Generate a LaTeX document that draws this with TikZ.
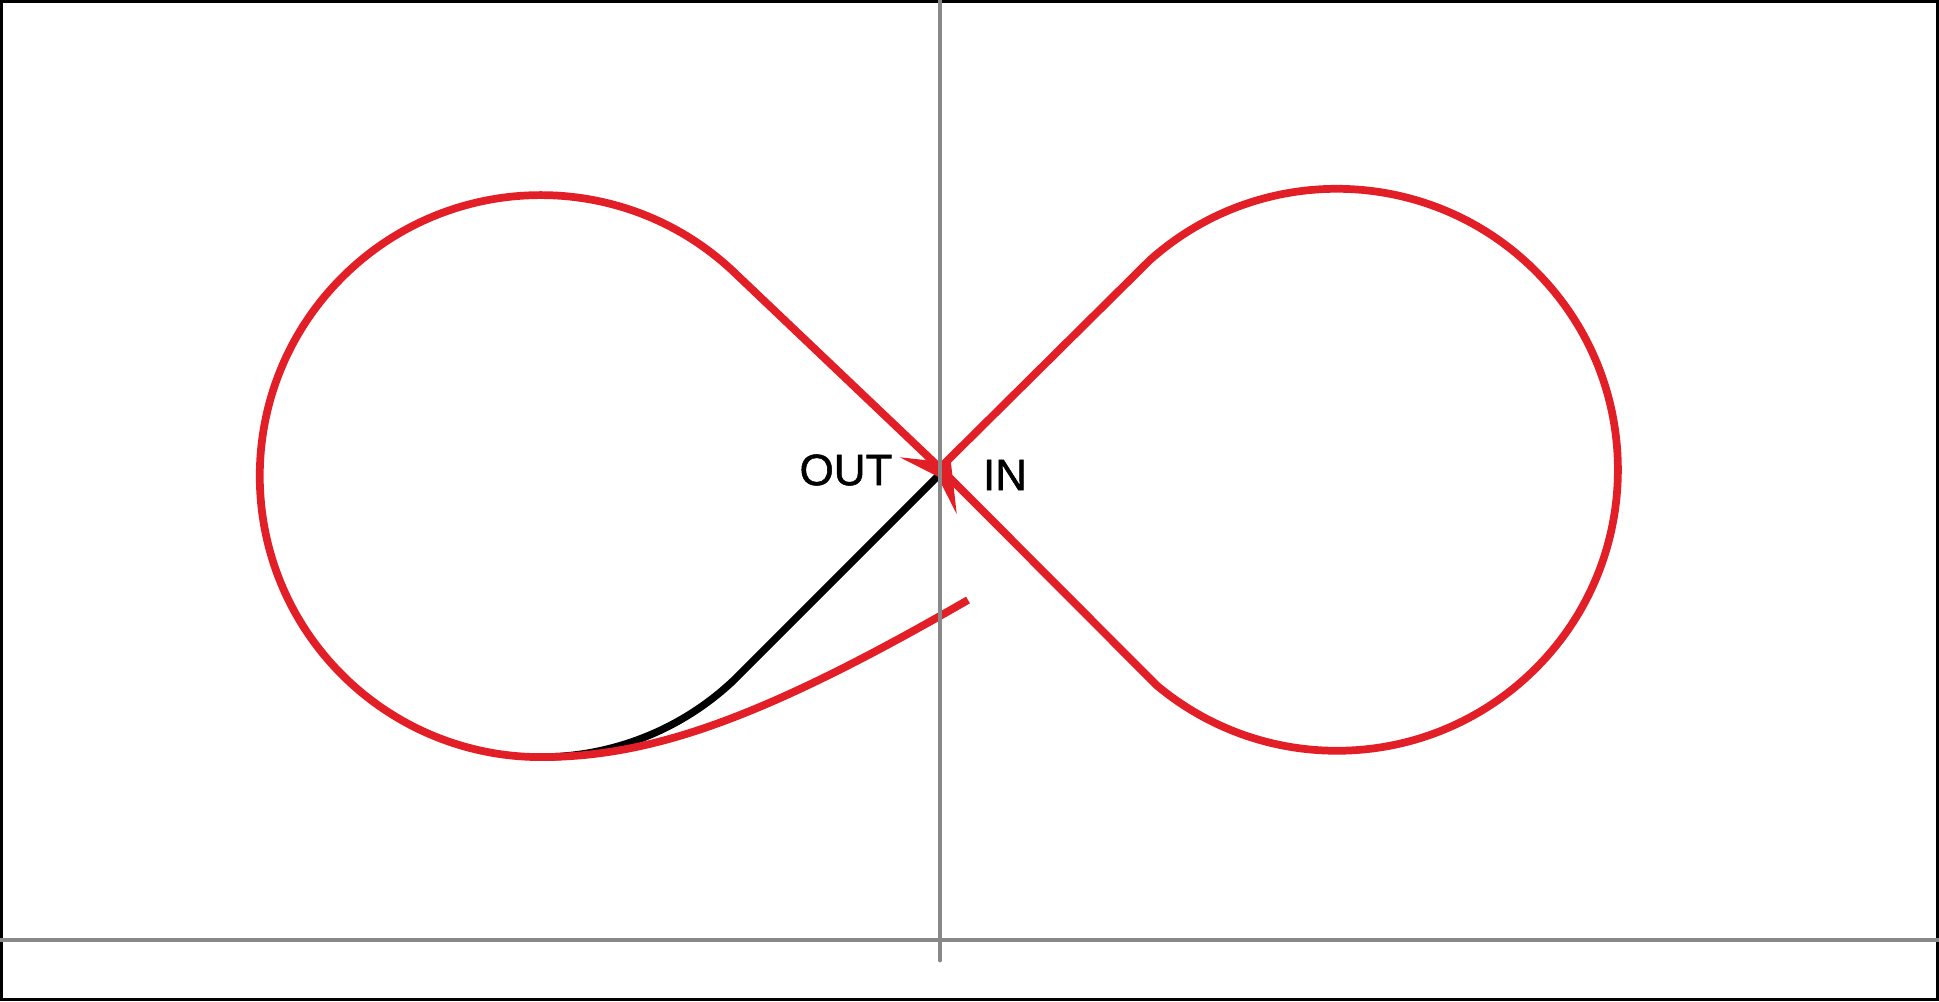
\documentclass[tikz,border=0pt]{standalone}
\usepackage{fontspec}
\setmainfont{Liberation Sans}
\newfontfamily\lblfont[FakeBold=1.2]{Liberation Sans}
\usetikzlibrary{arrows.meta}
\definecolor{loopred}{RGB}{226,30,38}
\definecolor{axisgray}{RGB}{136,136,136}
\tikzset{
  redline/.style={draw=loopred, line width=2.2pt},
  blackline/.style={draw=black, line width=2.1pt},
  axisline/.style={draw=axisgray, line width=1.4pt},
  lbl/.style={font=\lblfont\fontsize{12.5}{14}\selectfont, inner sep=0pt},
}
\begin{document}
\begin{tikzpicture}
\useasboundingbox (0,0) rectangle (19.39,10.01);
% frame
\draw[line width=0.9pt] (0.016,0.016) rectangle (19.374,9.994);
% key points
\coordinate (P) at (9.40,5.33);
\coordinate (T1) at (7.37,7.26);
\coordinate (T4) at (11.50,7.41);
\coordinate (B1) at (5.407,2.439);
\coordinate (tip) at (9.51,5.38);
\coordinate (tailend) at (9.68,4.01);
% black part with arrow
\draw[blackline, -{Stealth[length=3.2mm, width=8mm, inset=1.3mm, color=loopred]}]
  (B1) arc[start angle=270, end angle=313.3, radius=2.81cm] -- (tip);
% red figure eight
\draw[redline, line join=round]
  (P) -- (T4) arc[start angle=131.7, end angle=-129.9, radius=2.81cm] -- (P)
  -- (T1) arc[start angle=45.7, end angle=270, radius=2.81cm]
  .. controls (6.50,2.44) and (7.60,2.81) .. (tailend);
% axes
\coordinate (hl) at (0,0.61);
\coordinate (hr) at (19.39,0.61);
\coordinate (vt) at (9.40,10.01);
\coordinate (vb) at (9.40,0.41);
\draw[axisline] (hl) -- (hr);
\draw[axisline, line cap=round] (vt) -- (vb);
% labels
\node[lbl] (out) at (8.46,5.31) {OUT};
\node[lbl] (in) at (10.05,5.26) {IN};
\end{tikzpicture}
\end{document}
